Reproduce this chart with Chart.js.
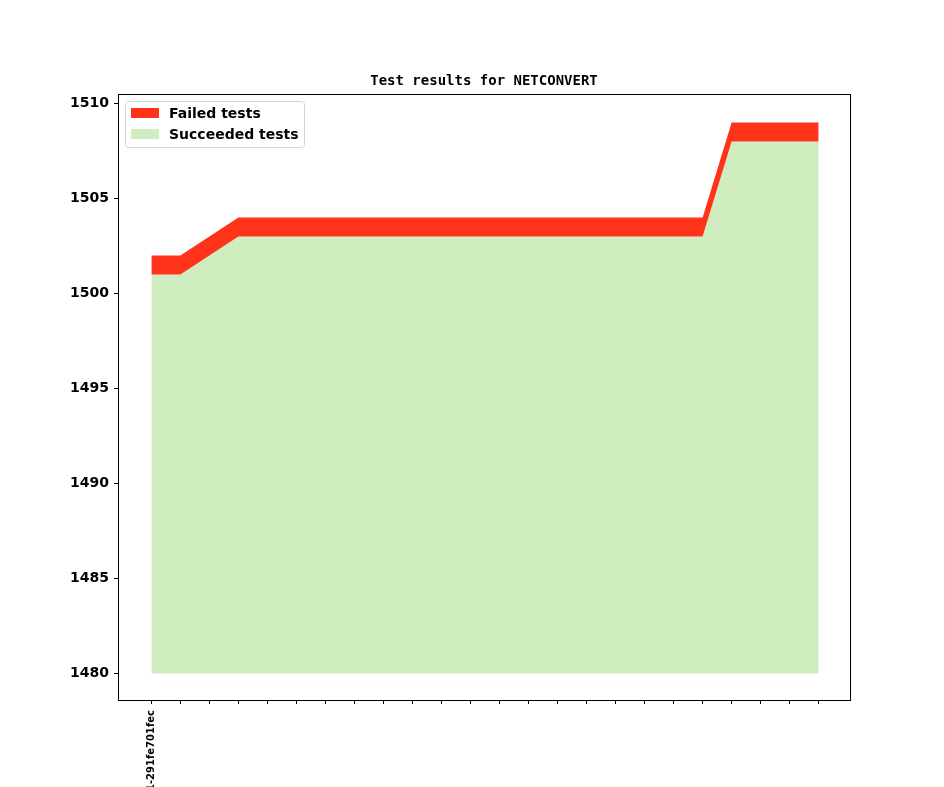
<!DOCTYPE html>
<html>
<head>
<meta charset="utf-8">
<script src="https://cdn.jsdelivr.net/npm/chart.js@4/dist/chart.umd.min.js"></script>
<style>
  html, body { margin: 0; padding: 0; background: #fff; overflow: hidden; }
  #wrap { width: 944px; height: 787px; }
</style>
</head>
<body>
<div id="wrap"><canvas id="testChart" width="944" height="787"></canvas></div>
<script>
// Données
const revisions = ['v1_8_0+0431-291fe701fec', '', '', '', '', '', '', '', '', '', '', '', '', '', '', '', '', '', '', '', '', '', '', ''];
const succeeded = [1501, 1501, 1502, 1503, 1503, 1503, 1503, 1503, 1503, 1503, 1503, 1503, 1503, 1503, 1503, 1503, 1503, 1503, 1503, 1503, 1508, 1508, 1508, 1508];
const failed = [1, 1, 1, 1, 1, 1, 1, 1, 1, 1, 1, 1, 1, 1, 1, 1, 1, 1, 1, 1, 1, 1, 1, 1];
const yTicks = [1480, 1485, 1490, 1495, 1500, 1505, 1510];
const baseValue = 1480;
const chartTitle = 'Test results for NETCONVERT';

const RED = 'rgb(255, 51, 26)';
const GREEN = 'rgb(207, 237, 191)';

// Points pour le graphique (x = index de la révision)
const succPoints = succeeded.map((v, i) => ({ x: i, y: v }));
const topPoints = succeeded.map((v, i) => ({ x: i, y: v + failed[i] }));

const n = revisions.length;

// Cadre et titre centré sur la zone du graphique
const framePlugin = {
    id: 'frame',
    afterDraw(chart) {
        const { ctx, chartArea: a } = chart;
        ctx.save();
        ctx.strokeStyle = '#000';
        ctx.lineWidth = 1;
        ctx.strokeRect(a.left + 0.5, a.top + 0.5, a.right - a.left, a.bottom - a.top);
        ctx.font = 'bold 14px "DejaVu Sans Mono"';
        ctx.fillStyle = '#000';
        ctx.textAlign = 'center';
        ctx.textBaseline = 'middle';
        ctx.fillText(chartTitle, (a.left + a.right) / 2, 81);
        ctx.restore();
    }
};

// Légende dans le coin supérieur gauche
const legendPlugin = {
    id: 'innerLegend',
    afterDraw(chart) {
        const { ctx, chartArea: a } = chart;
        const x = a.left + 7, y = a.top + 7, w = 179, h = 46;
        ctx.save();
        ctx.fillStyle = 'rgba(255,255,255,0.8)';
        ctx.strokeStyle = '#d6d6d6';
        ctx.lineWidth = 1;
        ctx.beginPath();
        ctx.roundRect(x + 0.5, y + 0.5, w, h, 3);
        ctx.fill();
        ctx.stroke();
        const items = [['Failed tests', RED], ['Succeeded tests', GREEN]];
        ctx.font = 'bold 14px "DejaVu Sans"';
        ctx.textBaseline = 'middle';
        items.forEach((it, i) => {
            const cy = y + 12 + i * 21;
            ctx.fillStyle = it[1];
            ctx.fillRect(x + 6, cy - 5, 28, 10);
            ctx.fillStyle = '#000';
            ctx.fillText(it[0], x + 44, cy + 1);
        });
        ctx.restore();
    }
};

const config = {
    type: 'line',
    data: {
        datasets: [
            {
                label: 'Succeeded tests',
                data: succPoints,
                backgroundColor: GREEN,
                borderWidth: 0,
                pointRadius: 0,
                fill: { value: baseValue },
                order: 2
            },
            {
                label: 'Failed tests',
                data: topPoints,
                backgroundColor: RED,
                borderWidth: 0,
                pointRadius: 0,
                fill: '-1',
                order: 1
            }
        ]
    },
    options: {
        responsive: false,
        animation: false,
        layout: { padding: { left: 0, right: 94, top: 94, bottom: 0 } },
        elements: { line: { tension: 0 } },
        plugins: {
            legend: { display: false },
            tooltip: { enabled: false },
            title: { display: false }
        },
        scales: {
            x: {
                type: 'linear',
                min: -1.15,
                max: n - 1 + 1.08,
                afterBuildTicks(scale) {
                    scale.ticks = revisions.map((r, i) => ({ value: i }));
                },
                afterFit(scale) { scale.height = 87; },
                grid: { drawOnChartArea: false, drawTicks: true, tickLength: 4, color: '#000' },
                border: { display: true, color: '#000' },
                ticks: {
                    autoSkip: false,
                    minRotation: 90,
                    maxRotation: 90,
                    padding: 6,
                    color: '#000',
                    font: { family: '"DejaVu Sans"', weight: 'bold', size: 10 },
                    callback: (v) => revisions[v] || ''
                }
            },
            y: {
                min: 1478.6,
                max: 1510.5,
                afterBuildTicks(scale) {
                    scale.ticks = yTicks.map(v => ({ value: v }));
                },
                afterFit(scale) { scale.width = 118; },
                grid: { drawOnChartArea: false, drawTicks: true, tickLength: 4, color: '#000' },
                border: { display: true, color: '#000' },
                ticks: {
                    padding: 5,
                    color: '#000',
                    font: { family: '"DejaVu Sans"', weight: 'bold', size: 14 },
                    callback: (v) => String(v)
                }
            }
        }
    },
    plugins: [framePlugin, legendPlugin]
};

const testChart = new Chart(document.getElementById('testChart'), config);
</script>
</body>
</html>
